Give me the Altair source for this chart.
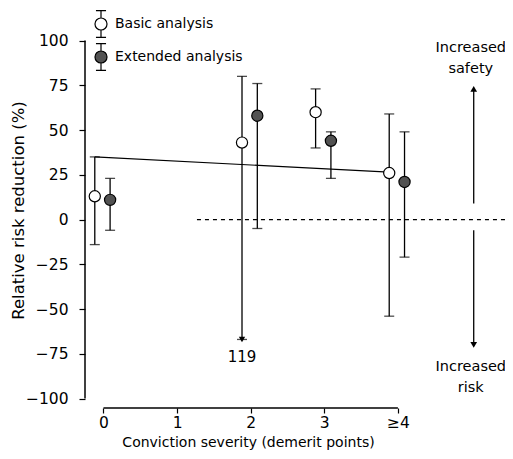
import json
import altair as alt
import pandas as pd

# ---------------- data ----------------
severity = [0, 2, 3, 4]
tick_values = [0, 1, 2, 3, 4]
tick_labels = ["0", "1", "2", "3", "≥4"]

series_names = ["Basic analysis", "Extended analysis"]
basic_est = [13, 43, 60, 26]
basic_hi = [35, 80, 73, 59]
basic_lo = [-14, -67, 40, -54]      # -67 = truncated display of the -119 bound
ext_est = [11, 58, 44, 21]
ext_hi = [23, 76, 49, 49]
ext_lo = [-6, -5, 23, -21]

truncated_label = ["119"]
truncated_at = [-67]

trend_x = [-0.12, 3.88]
trend_y = [35, 26.5]

ref_line_start = [1.27]

side_labels = ["Increased\nsafety", "Increased\nrisk"]
side_label_y = [95.8, -82.4]
side_arrow_from = [9, -6]
side_arrow_to = [73, -70]

# ---------------- layout constants ----------------
X_DOM = [-0.251, 5.455]
Y_DOM = [-105.3, 118.2]
OFFSET = {"Basic analysis": -0.118, "Extended analysis": 0.09}
SIDE_X = 5.03
SIDE_TEXT_X = 4.99
FONT = "DejaVu Sans"

rows = []
for name, est, lo, hi in [
    (series_names[0], basic_est, basic_lo, basic_hi),
    (series_names[1], ext_est, ext_lo, ext_hi),
]:
    for s, e, l, h in zip(severity, est, lo, hi):
        rows.append({"analysis": name, "x": s + OFFSET[name], "est": e, "lo": l, "hi": h})
pts = pd.DataFrame(rows)

trunc = pd.DataFrame({
    "x": [2 + OFFSET["Basic analysis"]],
    "y": truncated_at,
    "label": truncated_label,
})
trend = pd.DataFrame({"x": trend_x, "y": trend_y})
ref = pd.DataFrame({"x": ref_line_start, "x2": [X_DOM[1]], "y": [0]})
side = pd.DataFrame({
    "x": [SIDE_X, SIDE_X],
    "tx": [SIDE_TEXT_X, SIDE_TEXT_X],
    "label": side_labels,
    "ly": side_label_y,
    "a0": side_arrow_from,
    "a1": side_arrow_to,
    "shape": ["triangle-up", "triangle-down"],
})
yaxis_line = pd.DataFrame({"y": [-100], "y2": [100]})
xaxis_line = pd.DataFrame({"x": [0], "x2": [4]})

xs = alt.Scale(domain=X_DOM, nice=False, zero=False)
ys = alt.Scale(domain=Y_DOM, nice=False, zero=False)

label_expr = json.dumps(tick_labels, ensure_ascii=False) + "[datum.value]"

x_axis = alt.Axis(
    values=tick_values, labelExpr=label_expr, domain=False, grid=False,
    tickSize=5, tickColor="black", tickWidth=1.2,
    labelFont=FONT, labelFontSize=15.5, labelColor="black", labelPadding=2,
    title="Conviction severity (demerit points)", titleFont=FONT,
    titleFontSize=14, titleFontWeight="normal", titleColor="black",
    titleX=163, titleY=34, titleAlign="center", titleBaseline="middle",
)
y_axis = alt.Axis(
    values=list(range(-100, 101, 25)), domain=False, grid=False,
    tickSize=6, tickColor="black", tickWidth=1.2,
    labelFont=FONT, labelFontSize=15.5, labelColor="black", labelPadding=11,
    title="Relative risk reduction (%)", titleFont=FONT, titleFontSize=16.5,
    titleFontWeight="normal", titleColor="black", titleAngle=270,
    titleX=-67, titleY=202, titleAlign="center", titleBaseline="middle",
)


def X(field):
    return alt.X(field, type="quantitative", scale=xs, axis=x_axis)


def Y(field):
    return alt.Y(field, type="quantitative", scale=ys, axis=y_axis)


# legend symbol: circle with an error bar through it (drawn larger than its box)
R, H, C = 0.547, 1.222, 0.458
sym = (
    f"M0,{-H}L0,{-R}M0,{R}L0,{H}"
    f"M{-C},{-H}L{C},{-H}M{-C},{H}L{C},{H}"
    f"M{-R},0A{R},{R},0,1,0,{R},0A{R},{R},0,1,0,{-R},0Z"
)

fill_scale = alt.Scale(domain=series_names, range=["white", "#525252"])
legend = alt.Legend(
    orient="none", legendX=4, legendY=4, title=None, padding=0,
    symbolType=sym, symbolSize=484, symbolStrokeColor="black",
    symbolStrokeWidth=1.2, symbolOffset=0,
    labelFont=FONT, labelFontSize=14, labelColor="black",
    labelOffset=2, rowPadding=1,
)

whisk = alt.Chart(pts).mark_rule(color="black", strokeWidth=1.3).encode(
    x=X("x"), y=Y("lo"), y2="hi:Q",
)
cap_hi = alt.Chart(pts).mark_tick(orient="horizontal", size=10, thickness=1.3, color="black").encode(
    x=X("x"), y=Y("hi")
)
cap_lo = alt.Chart(pts).mark_tick(orient="horizontal", size=10, thickness=1.3, color="black").encode(
    x=X("x"), y=Y("lo")
)
trend_line = alt.Chart(trend).mark_line(color="black", strokeWidth=1.2).encode(
    x=X("x"), y=Y("y")
)
ref_line = alt.Chart(ref).mark_rule(color="black", strokeWidth=1.3, strokeDash=[4, 4]).encode(
    x=X("x"), x2="x2:Q", y=Y("y")
)
points = alt.Chart(pts).mark_point(filled=True, size=125, stroke="black", strokeWidth=1.2, opacity=1).encode(
    x=X("x"), y=Y("est"),
    fill=alt.Fill("analysis:N", scale=fill_scale, legend=legend),
)
trunc_arrow = alt.Chart(trunc).mark_point(shape="triangle-down", filled=True, size=40, color="black", opacity=1).encode(
    x=X("x"), y=Y("y")
)
trunc_text = alt.Chart(trunc).mark_text(font=FONT, fontSize=15, color="black", dy=18).encode(
    x=X("x"), y=Y("y"), text="label:N"
)
side_rule = alt.Chart(side).mark_rule(color="black", strokeWidth=1.3).encode(
    x=X("x"), y=Y("a0"), y2="a1:Q"
)
side_head = alt.Chart(side).mark_point(filled=True, size=45, color="black", opacity=1).encode(
    x=X("x"), y=Y("a1"),
    shape=alt.Shape("shape:N", scale=None, legend=None),
)
side_text = alt.Chart(side).mark_text(font=FONT, fontSize=14.5, color="black", lineBreak="\n",
                                      lineHeight=21, align="center", baseline="middle").encode(
    x=X("tx"), y=Y("ly"), text="label:N"
)
y_line = alt.Chart(yaxis_line).mark_rule(color="black", strokeWidth=1.5).encode(
    x=alt.value(0), y=Y("y"), y2="y2:Q"
)
x_line = alt.Chart(xaxis_line).mark_rule(color="black", strokeWidth=1.5).encode(
    y=alt.value(400), x=X("x"), x2="x2:Q"
)

chart = alt.layer(
    whisk, cap_hi, cap_lo, trend_line, ref_line, points, trunc_arrow, trunc_text,
    side_rule, side_head, side_text, y_line, x_line,
).properties(
    width=420, height=400,
    padding={"left": 77, "top": 0, "right": 0, "bottom": 43},
    autosize=alt.AutoSizeParams(type="none"),
).configure_view(stroke=None, clip=False)

chart.save("out.html", embed_options={"renderer": "svg", "actions": False})
